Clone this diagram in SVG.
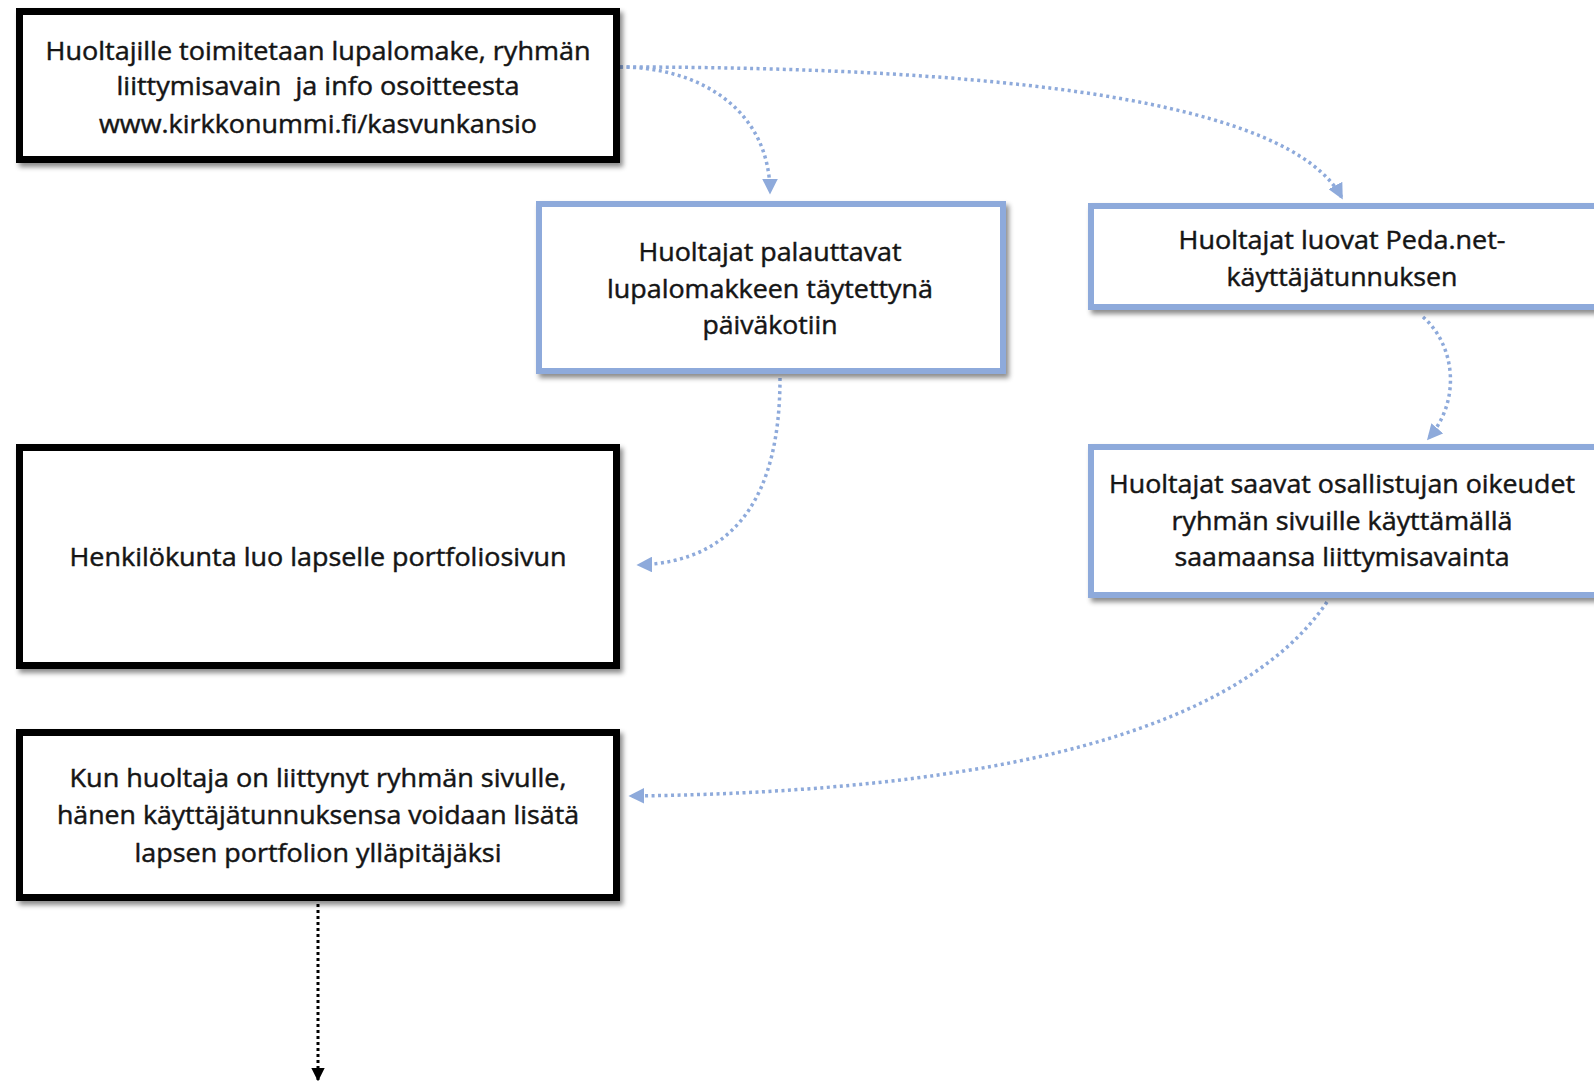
<svg xmlns="http://www.w3.org/2000/svg" width="1594" height="1083" viewBox="0 0 1594 1083">
<style>
.bk{fill:#fff;stroke:#000;stroke-width:7}
.bl{fill:#fff;stroke:#8eaadb;stroke-width:6}
.t{font-family:"Open Sans","Liberation Sans",sans-serif;font-size:25.5px;fill:#151515;stroke:#151515;stroke-width:0.45;text-anchor:middle}
.c{fill:none;stroke:#8eaadb;stroke-width:3.5;stroke-dasharray:3 3.5}
.cb{fill:none;stroke:#000;stroke-width:3;stroke-dasharray:3 3}
</style>
<defs>
<filter id="sh" x="-5%" y="-5%" width="115%" height="120%">
<feDropShadow dx="3" dy="4" stdDeviation="2.5" flood-color="#000" flood-opacity="0.45"/>
</filter>
<marker id="ab" viewBox="0 0 10 10" refX="9" refY="5" markerWidth="4.5" markerHeight="4.5" orient="auto" markerUnits="strokeWidth">
<path d="M0,0 L10,5 L0,10 z" fill="#8eaadb"/>
</marker>
<marker id="ak" viewBox="0 0 10 10" refX="9" refY="5" markerWidth="4.5" markerHeight="4.5" orient="auto" markerUnits="strokeWidth">
<path d="M0,0 L10,5 L0,10 z" fill="#000"/>
</marker>
</defs>
<rect width="1594" height="1083" fill="#fff"/>

<g id="connectors">
<path class="c" d="M620 67 C700 67 770 110 770 193" marker-end="url(#ab)"/>
<path class="c" d="M620 67 C1000 67 1290 100 1342 198" marker-end="url(#ab)"/>
<path class="c" d="M1423 317 C1455 345 1462 400 1428 439" marker-end="url(#ab)"/>
<path class="c" d="M780 378 C780 490 740 562 638 565" marker-end="url(#ab)"/>
<path class="c" d="M1327 602 C1240 730 1000 792 630 796" marker-end="url(#ab)"/>
<path class="cb" d="M318 904 L318 1080" marker-end="url(#ak)"/>
</g>

<g id="n1">
<rect class="bk" x="19.5" y="11.5" width="597" height="148" filter="url(#sh)"/>
<text class="t" x="318" y="60" textLength="545" lengthAdjust="spacingAndGlyphs">Huoltajille toimitetaan lupalomake, ryhmän</text>
<text class="t" x="318" y="95" textLength="403" lengthAdjust="spacingAndGlyphs" xml:space="preserve">liittymisavain  ja info osoitteesta</text>
<text class="t" x="318" y="133" textLength="438" lengthAdjust="spacingAndGlyphs">www.kirkkonummi.fi/kasvunkansio</text>
</g>

<g id="n2">
<rect class="bl" x="539" y="204" width="464" height="167" filter="url(#sh)"/>
<text class="t" x="770" y="261" textLength="263" lengthAdjust="spacingAndGlyphs">Huoltajat palauttavat</text>
<text class="t" x="770" y="298" textLength="326" lengthAdjust="spacingAndGlyphs">lupalomakkeen täytettynä</text>
<text class="t" x="770" y="334" textLength="135" lengthAdjust="spacingAndGlyphs">päiväkotiin</text>
</g>

<g id="n3">
<rect class="bl" x="1091" y="206" width="510" height="101" filter="url(#sh)"/>
<text class="t" x="1342" y="249" textLength="327" lengthAdjust="spacingAndGlyphs">Huoltajat luovat Peda.net-</text>
<text class="t" x="1342" y="286" textLength="231" lengthAdjust="spacingAndGlyphs">käyttäjätunnuksen</text>
</g>

<g id="n4">
<rect class="bl" x="1091" y="447" width="510" height="148" filter="url(#sh)"/>
<text class="t" x="1342" y="493" textLength="466" lengthAdjust="spacingAndGlyphs">Huoltajat saavat osallistujan oikeudet</text>
<text class="t" x="1342" y="530" textLength="341" lengthAdjust="spacingAndGlyphs">ryhmän sivuille käyttämällä</text>
<text class="t" x="1342" y="566" textLength="335" lengthAdjust="spacingAndGlyphs">saamaansa liittymisavainta</text>
</g>

<g id="n5">
<rect class="bk" x="19.5" y="447.5" width="597" height="218" filter="url(#sh)"/>
<text class="t" x="318" y="566" textLength="497" lengthAdjust="spacingAndGlyphs">Henkilökunta luo lapselle portfoliosivun</text>
</g>

<g id="n6">
<rect class="bk" x="19.5" y="732.5" width="597" height="165" filter="url(#sh)"/>
<text class="t" x="318" y="787" textLength="497" lengthAdjust="spacingAndGlyphs">Kun huoltaja on liittynyt ryhmän sivulle,</text>
<text class="t" x="318" y="824" textLength="522" lengthAdjust="spacingAndGlyphs">hänen käyttäjätunnuksensa voidaan lisätä</text>
<text class="t" x="318" y="862" textLength="367" lengthAdjust="spacingAndGlyphs">lapsen portfolion ylläpitäjäksi</text>
</g>
</svg>
